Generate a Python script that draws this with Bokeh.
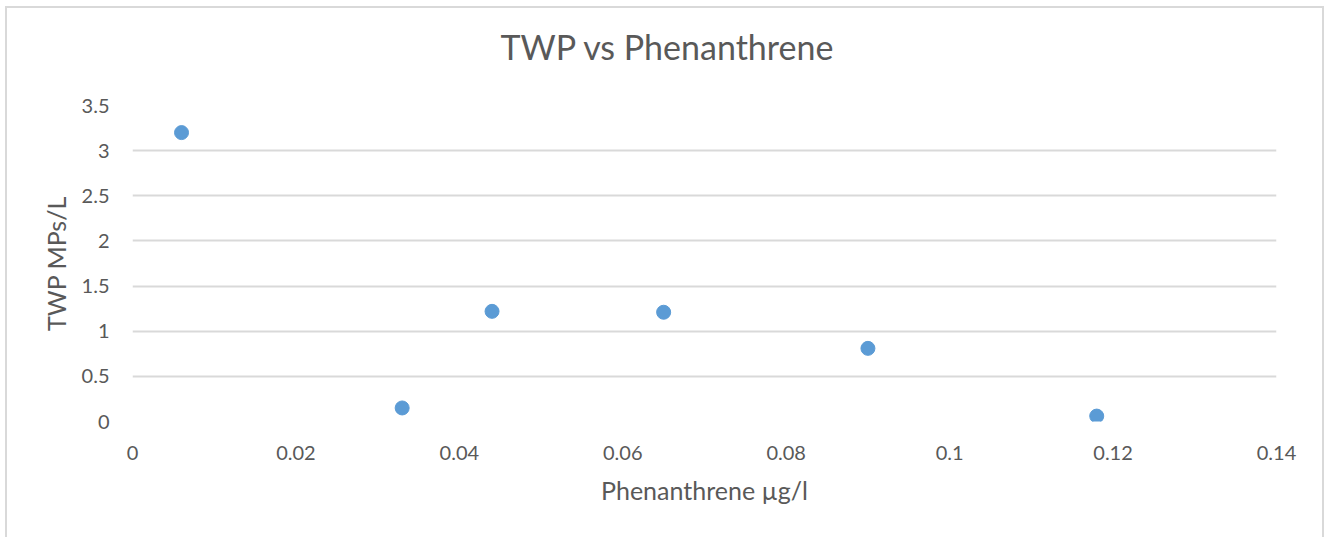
from bokeh.plotting import figure
from bokeh.models import SingleIntervalTicker, CustomJSTickFormatter
from bokeh.embed import file_html
from bokeh.resources import INLINE

# data
phenanthrene = [0.006, 0.033, 0.044, 0.065, 0.090, 0.118]
twp = [3.2, 0.15, 1.22, 1.21, 0.81, 0.06]
title_text = "TWP vs Phenanthrene"
x_title = "Phenanthrene µg/l"
y_title = "TWP MPs/L"

FONT = "Lato"
TXT = "#595959"
GRID = "#d9d9d9"

W, H = 1319, 531
p = figure(width=W, height=H, x_range=(0, 0.14), y_range=(0, 3.5),
           output_backend="svg", toolbar_location=None,
           min_border_left=125, min_border_right=50, min_border_top=97, min_border_bottom=118)
p.margin = (6, 0, 0, 5)
p.styles = {"border-left": "2px solid #d9d9d9", "border-top": "2px solid #d9d9d9",
            "border-right": "2px solid #d9d9d9"}

# title: a trailing empty line lifts the text away from the plot frame
p.title.text = title_text + "\n"
p.title.align = "left"
p.title.offset = 368
p.title.text_font = FONT
p.title.text_font_size = "34px"
p.title.text_font_style = "normal"
p.title.text_line_height = 0.9
p.title.text_color = TXT
p.title.standoff = 3

p.outline_line_color = None
p.background_fill_color = "white"
p.border_fill_color = "white"

p.scatter(phenanthrene, twp, size=14, color="#5b9bd5", line_color="#5b9bd5")

p.xaxis.ticker = SingleIntervalTicker(interval=0.02)
p.yaxis.ticker = SingleIntervalTicker(interval=0.5)
fmt = CustomJSTickFormatter(code="return String(Math.round(tick*1000)/1000);")
p.xaxis.formatter = fmt
p.yaxis.formatter = fmt

for ax in (p.xaxis[0], p.yaxis[0]):
    ax.axis_line_color = None
    ax.major_tick_line_color = None
    ax.minor_tick_line_color = None
    ax.major_label_text_font = FONT
    ax.major_label_text_font_size = "20px"
    ax.major_label_text_color = TXT
    ax.axis_label_text_font = FONT
    ax.axis_label_text_font_size = "25px"
    ax.axis_label_text_font_style = "normal"
    ax.axis_label_text_color = TXT

p.xaxis.major_label_standoff = 18
p.yaxis.major_label_standoff = 17
p.xaxis.axis_label = x_title
p.yaxis.axis_label = y_title
p.xaxis.axis_label_standoff = 12
p.yaxis.axis_label_standoff = 8

p.xgrid.grid_line_color = None
p.ygrid.grid_line_color = GRID
p.ygrid.grid_line_width = 2

open("out.html", "w").write(file_html(p, INLINE))
